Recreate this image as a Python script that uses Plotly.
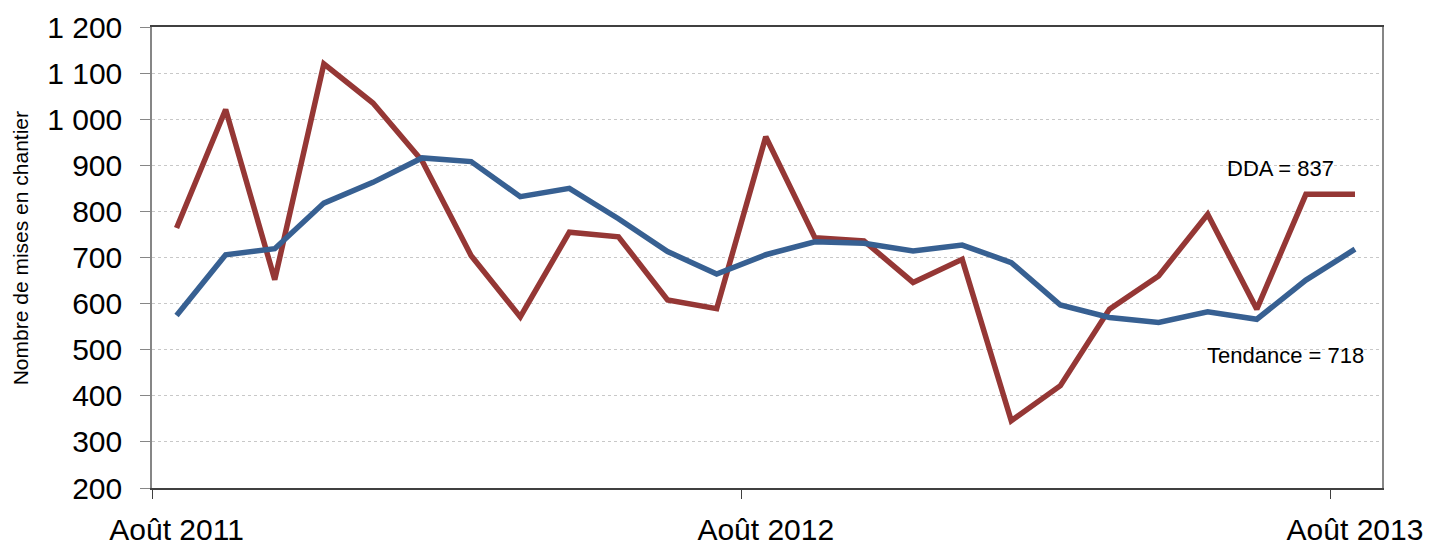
import plotly.graph_objects as go

months = ["2011-08", "2011-09", "2011-10", "2011-11", "2011-12", "2012-01", "2012-02",
          "2012-03", "2012-04", "2012-05", "2012-06", "2012-07", "2012-08", "2012-09",
          "2012-10", "2012-11", "2012-12", "2013-01", "2013-02", "2013-03", "2013-04",
          "2013-05", "2013-06", "2013-07", "2013-08"]
dda = [764, 1021, 652, 1120, 1035, 910, 704, 571, 755, 745, 608, 589, 962, 743,
       736, 646, 696, 346, 422, 588, 660, 794, 588, 837, 837]
tendance = [574, 706, 719, 818, 863, 916, 908, 832, 850, 784, 713, 664, 706, 734,
            731, 714, 727, 689, 597, 570, 559, 582, 566, 651, 718]
label_months = [0, 12, 24]
tick_labels = ["Août 2011", "Août 2012", "Août 2013"]
y_ticks = list(range(200, 1201, 100))
y_labels = [f"{v:,}".replace(",", " ") for v in y_ticks]

x = [i + 0.5 for i in range(len(months))]
label_pos = [m + 0.5 for m in label_months]   # labels centred on the category
tick_pos = label_months                        # tick marks on category boundaries

fig = go.Figure()
fig.add_trace(go.Scatter(x=x, y=dda, mode="lines", name="DDA",
                         line=dict(color="#953735", width=5.5), hoverinfo="y"))
fig.add_trace(go.Scatter(x=x, y=tendance, mode="lines", name="Tendance",
                         line=dict(color="#376092", width=5.5), hoverinfo="y"))

font_family = "Arial, Liberation Sans, sans-serif"
xr = [0, 25.05]

# the page body has an 8px default margin, so the figure is sized to fit
fig.update_layout(
    width=1426, height=540,
    margin=dict(l=144, r=52, t=19, b=60, autoexpand=False),
    paper_bgcolor="white", plot_bgcolor="white",
    showlegend=False,
    font=dict(family=font_family, color="black"),
    xaxis=dict(range=xr, tickvals=label_pos, ticktext=tick_labels,
               showgrid=False, zeroline=False, showline=True, mirror=True,
               linecolor="#404040", linewidth=1.5, ticks="outside", ticklen=10,
               tickcolor="rgba(0,0,0,0)", tickfont=dict(size=30), ticklabelstandoff=4,
               automargin=False),
    xaxis2=dict(range=xr, overlaying="x", side="bottom", tickvals=tick_pos,
                showticklabels=False, showgrid=False, zeroline=False, showline=False,
                ticks="outside", ticklen=10, tickcolor="#404040", tickwidth=1,
                automargin=False),
    yaxis=dict(range=[200, 1200], tickvals=y_ticks, ticktext=y_labels,
               showgrid=True, gridcolor="#c8c8c8", griddash="dot", gridwidth=1,
               zeroline=False, showline=True, mirror=True,
               linecolor="#868686", linewidth=1.5, ticks="outside", ticklen=10,
               tickcolor="#868686", tickfont=dict(size=30), ticklabelstandoff=12,
               automargin=False),
    annotations=[
        dict(x=22.98, y=894, xref="x", yref="y", text="DDA = 837", showarrow=False,
             font=dict(size=22), xanchor="center", yanchor="middle"),
        dict(x=23.08, y=488, xref="x", yref="y", text="Tendance = 718", showarrow=False,
             font=dict(size=22), xanchor="center", yanchor="middle"),
        dict(x=-0.1073, y=0.52, xref="paper", yref="paper",
             text="Nombre de mises en chantier", showarrow=False, textangle=-90,
             font=dict(size=21), xanchor="center", yanchor="middle"),
    ],
)
# invisible trace to activate the secondary x axis (tick marks only)
fig.add_trace(go.Scatter(x=[xr[0]], y=[200], xaxis="x2", mode="markers",
                         marker=dict(opacity=0), hoverinfo="skip", showlegend=False))

fig.write_html("out.html")
